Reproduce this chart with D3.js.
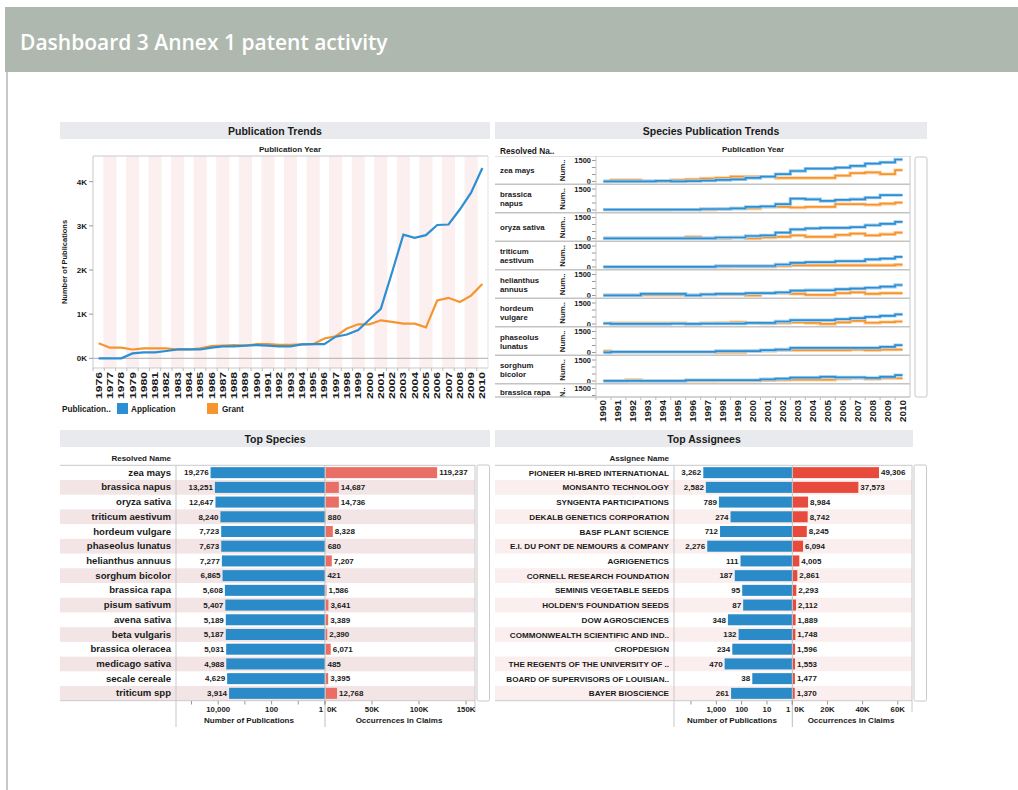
<!DOCTYPE html>
<html><head><meta charset="utf-8">
<script src="https://cdn.jsdelivr.net/npm/d3@7"></script>
<style>
body{margin:0;background:#fff;}
svg text{font-family:"Liberation Sans",Arial,sans-serif;font-weight:bold;fill:#1a1a1a;}
</style></head><body>
<svg id="c" width="1018" height="790"></svg>
<script>
// ---------- DATA ----------
const pubYears = [1976,1977,1978,1979,1980,1981,1982,1983,1984,1985,1986,1987,1988,1989,1990,1991,1992,1993,1994,1995,1996,1997,1998,1999,2000,2001,2002,2003,2004,2005,2006,2007,2008,2009,2010];
const applicationPubs = [0,0,0,110,135,135,165,200,200,200,240,270,270,285,300,285,270,270,315,320,320,490,540,640,880,1120,1950,2800,2730,2790,3020,3030,3370,3750,4310];
const grantPubs = [340,240,240,200,225,225,225,200,200,225,275,290,300,290,320,320,305,305,315,320,450,500,675,770,770,860,825,785,785,700,1310,1370,1275,1420,1685];
const pubTicks = [0,1000,2000,3000,4000];
const pubTickLabels = ["0K","1K","2K","3K","4K"];

const trendYears = [1990,1991,1992,1993,1994,1995,1996,1997,1998,1999,2000,2001,2002,2003,2004,2005,2006,2007,2008,2009,2010];
const trendSpecies = ["zea mays","brassica napus","oryza sativa","triticum aestivum","helianthus annuus","hordeum vulgare","phaseolus lunatus","sorghum bicolor","brassica rapa"];
const trendSpeciesLines = [["zea mays"],["brassica","napus"],["oryza sativa"],["triticum","aestivum"],["helianthus","annuus"],["hordeum","vulgare"],["phaseolus","lunatus"],["sorghum","bicolor"],["brassica rapa"]];
const trendApplication = [
 [15,15,15,15,45,15,30,60,110,150,255,345,525,750,920,920,990,1110,1275,1365,1570],
 [30,30,30,30,30,30,30,70,70,110,225,255,420,810,765,645,720,765,885,1065,1065],
 [15,15,15,15,15,15,15,15,70,70,180,225,420,645,720,765,765,810,945,1050,1185],
 [15,15,15,15,15,15,15,15,70,70,70,70,180,300,345,345,420,420,540,600,720],
 [15,15,15,120,120,120,15,75,120,120,165,165,225,345,375,375,450,495,555,630,750],
 [45,5,5,5,5,30,5,30,30,30,75,75,180,270,270,270,345,420,510,585,690],
 [5,45,45,45,45,45,45,45,105,105,105,165,210,330,330,330,330,330,330,405,525],
 [5,5,5,5,5,5,60,60,60,60,60,120,165,240,240,300,255,255,225,300,420],
 null
];
const trendGrant = [
 [5,110,110,15,15,110,150,210,255,345,345,345,255,255,255,255,420,600,645,525,810],
 [30,30,30,15,15,30,30,15,70,110,110,225,225,180,225,225,420,420,375,450,525],
 [15,15,15,15,15,15,120,15,15,70,15,70,120,225,120,120,255,345,225,300,420],
 [15,15,15,15,15,15,15,15,5,15,15,15,70,120,120,120,120,120,120,120,165],
 [15,15,15,30,30,30,30,75,75,75,15,165,165,120,45,45,165,225,120,165,165],
 [30,75,75,75,75,75,30,75,90,120,75,30,75,120,75,5,120,225,90,135,180],
 [105,45,45,45,45,45,45,45,5,5,105,105,165,165,165,165,165,210,165,210,210],
 [5,5,90,5,5,5,5,5,15,15,15,45,75,90,90,90,165,195,135,195,195],
 null
];
const trendTicks = [0,500,1000,1500];

const topSpecies = ["zea mays","brassica napus","oryza sativa","triticum aestivum","hordeum vulgare","phaseolus lunatus","helianthus annuus","sorghum bicolor","brassica rapa","pisum sativum","avena sativa","beta vulgaris","brassica oleracea","medicago sativa","secale cereale","triticum spp"];
const topSpeciesPubs = [19276,13251,12647,8240,7723,7673,7277,6865,5608,5407,5189,5187,5031,4988,4629,3914];
const topSpeciesClaims = [119237,14687,14736,880,8328,680,7207,421,1586,3641,3389,2390,6071,485,3395,12768];
const speciesLogTicks = [1,10,100,1000,10000,100000];
const speciesLogLabels = {1:"1",100:"100",10000:"10,000"};
const speciesClaimTicks = [0,50000,100000,150000];
const speciesClaimLabels = ["0K","50K","100K","150K"];

const topAssignees = ["PIONEER HI-BRED INTERNATIONAL","MONSANTO TECHNOLOGY","SYNGENTA PARTICIPATIONS","DEKALB GENETICS CORPORATION","BASF PLANT SCIENCE","E.I. DU PONT DE NEMOURS & COMPANY","AGRIGENETICS","CORNELL RESEARCH FOUNDATION","SEMINIS VEGETABLE SEEDS","HOLDEN'S FOUNDATION SEEDS","DOW AGROSCIENCES","COMMONWEALTH SCIENTIFIC AND IND..","CROPDESIGN","THE REGENTS OF THE UNIVERSITY OF ..","BOARD OF SUPERVISORS OF LOUISIAN..","BAYER BIOSCIENCE"];
const assigneePubs = [3262,2582,789,274,712,2276,111,187,95,87,348,132,234,470,38,261];
const assigneeClaims = [49306,37573,8984,8742,8245,6094,4005,2861,2293,2112,1889,1748,1596,1553,1477,1370];
const assigneeLogTicks = [1,10,100,1000,10000];
const assigneeLogLabels = {1:"1",10:"10",100:"100",1000:"1,000"};
const assigneeClaimTicks = [0,20000,40000,60000];
const assigneeClaimLabels = ["0K","20K","40K","60K"];

// ---------- STYLE ----------
const BLUE = "#2d8fd3", ORANGE = "#f6952e", BARBLUE = "#2b8bc9", SALMON = "#e96e66", RED = "#e84a3c";
const GRID = "#c9c9c9";
const fmt = d3.format(",");

const svg = d3.select("#c");

// header
svg.append("rect").attr("x",5).attr("y",7).attr("width",1013).attr("height",65).attr("fill","#afb8af");
svg.append("text").attr("x",20).attr("y",50).text("Dashboard 3 Annex 1 patent activity")
  .style("font-family","'Open Sans',sans-serif").style("font-weight","600").style("font-size","21px").style("fill","#ffffff");
svg.append("rect").attr("x",6).attr("y",72).attr("width",2).attr("height",718).attr("fill","#c8c8c8");

function T(g,x,y,s,size,anchor){
  return g.append("text").attr("x",x).attr("y",y).text(s).attr("font-size",size).attr("text-anchor",anchor||"start");
}
function line(g,x1,y1,x2,y2,c,w){
  return g.append("line").attr("x1",x1).attr("y1",y1).attr("x2",x2).attr("y2",y2).attr("stroke",c||GRID).attr("stroke-width",w||1);
}
function titleBar(x,y,w,s){
  svg.append("rect").attr("x",x).attr("y",y).attr("width",w).attr("height",17).attr("fill","#e8eaed");
  T(svg,x+w/2,y+12.5,s,10.5,"middle");
}
titleBar(60,122,430,"Publication Trends");
titleBar(495,122,432,"Species Publication Trends");
titleBar(60,430,430,"Top Species");
titleBar(495,430,418,"Top Assignees");

// ---------- PUBLICATION TRENDS ----------
{
  const g = svg.append("g");
  const x = d3.scaleBand().domain(pubYears).range([93,488]);
  const y = d3.scaleLinear().domain([0,4000]).range([358.3,181.7]);
  const top = 156, bot = 368, bw = x.step()*1.16;
  pubYears.forEach((yr,i)=>{
    if(i%2===1) g.append("rect").attr("x",x(yr)+x.bandwidth()/2-bw/2).attr("y",top).attr("width",bw).attr("height",bot-top).attr("fill","#fbefef");
  });
  line(g,93,top,488,top); line(g,93,top,93,bot); line(g,93,bot,488,bot); line(g,488,top,488,bot,"#e3e3e3");
  line(g,93,y(0),488,y(0),"#bdbdbd",1.2);
  pubTicks.forEach((v,i)=>{ line(g,89,y(v),93,y(v),"#999"); T(g,87,y(v)+3,pubTickLabels[i],8,"end"); });
  pubYears.forEach(yr=>{
    line(g,x(yr),bot,x(yr),bot+3,"#bbb");
    T(g,0,0,String(yr),8.5,"end").attr("transform",`translate(${x(yr)+x.bandwidth()/2+3},${bot+4}) rotate(-90)`)
      .attr("textLength",27).attr("lengthAdjust","spacingAndGlyphs");
  });
  T(g,0,0,"Number of Publications",7.5,"middle").attr("transform","translate(67,262) rotate(-90)");
  T(g,290,151.5,"Publication Year",8,"middle");
  const ln = d3.line().x((d,i)=>x(pubYears[i])+x.bandwidth()/2).y(d=>y(d));
  g.append("path").attr("d",ln(grantPubs)).attr("fill","none").attr("stroke",ORANGE).attr("stroke-width",2.2);
  g.append("path").attr("d",ln(applicationPubs)).attr("fill","none").attr("stroke",BLUE).attr("stroke-width",2.2);
  // legend
  T(g,62,412,"Publication..",8.2,"start");
  g.append("rect").attr("x",117).attr("y",403).attr("width",11).attr("height",11).attr("fill",BLUE);
  T(g,131,412,"Application",8.2,"start");
  g.append("rect").attr("x",207).attr("y",403).attr("width",11).attr("height",11).attr("fill",ORANGE);
  T(g,222,412,"Grant",8.2,"start");
}

// ---------- SPECIES PUBLICATION TRENDS ----------
{
  const g = svg.append("g");
  const x = d3.scaleBand().domain(trendYears).range([596,910]);
  const pitch = 28.5, firstTop = 157.3, panelBot = 397;
  T(g,500,153.5,"Resolved Na..",8.3,"start");
  T(g,753,151.5,"Publication Year",8,"middle");
  const clip = svg.append("defs").append("clipPath").attr("id","spClip");
  clip.append("rect").attr("x",495).attr("y",156).attr("width",420).attr("height",panelBot-156);
  const rows = g.append("g").attr("clip-path","url(#spClip)");
  trendSpecies.forEach((sp,i)=>{
    const top = firstTop + i*pitch;
    const last = i===trendSpecies.length-1;
    const y = d3.scaleLinear().domain([0,1500]).range([top+24.2, top+3.2]);
    line(rows,495,top-1.5,910,top-1.5,"#c4c4c4",1.6);
    const lines = trendSpeciesLines[i];
    if(last) T(rows,500,top+9.5,lines[0],7.8,"start");
    else if(lines.length===1) T(rows,500,top+15.5,lines[0],7.8,"start");
    else { T(rows,500,top+11.5,lines[0],7.8,"start"); T(rows,500,top+20.5,lines[1],7.8,"start"); }
    T(rows,0,0,last?"N..":"Num..",7.8,"middle").attr("transform",`translate(${565},${last?top+7:top+13}) rotate(-90)`);
    trendTicks.forEach(v=>line(rows,592,y(v),596,y(v),"#999"));
    T(rows,591,y(1500)+2.8,"1500",7.5,"end");
    T(rows,591,y(0)+2.8,"0",7.5,"end");
    const ln = d3.line().curve(d3.curveStep).x((d,j)=>x(trendYears[j])+x.bandwidth()/2).y(d=>y(d));
    if(trendGrant[i]){
      rows.append("path").attr("d",ln(trendGrant[i])).attr("fill","none").attr("stroke","#fcd2a6").attr("stroke-width",3.4);
      rows.append("path").attr("d",ln(trendGrant[i])).attr("fill","none").attr("stroke",ORANGE).attr("stroke-width",1.7);
    }
    if(trendApplication[i]){
      rows.append("path").attr("d",ln(trendApplication[i])).attr("fill","none").attr("stroke","#a8d0ef").attr("stroke-width",3.4);
      rows.append("path").attr("d",ln(trendApplication[i])).attr("fill","none").attr("stroke",BLUE).attr("stroke-width",1.7);
    }
  });
  line(g,495,panelBot,910,panelBot,"#c4c4c4",1.6);
  line(g,596,156,596,panelBot,"#c9c9c9");
  line(g,910,156,910,panelBot,"#c9c9c9");
  trendYears.forEach(yr=>{
    line(g,x(yr),panelBot,x(yr),panelBot+3,"#bbb");
    T(g,0,0,String(yr),8.5,"end").attr("transform",`translate(${x(yr)+x.bandwidth()/2+3},${panelBot+3}) rotate(-90)`)
      .attr("textLength",22).attr("lengthAdjust","spacingAndGlyphs");
  });
  g.append("rect").attr("x",915).attr("y",157).attr("width",12).attr("height",240).attr("fill","#fff").attr("stroke","#c8c8c8").attr("rx",2);
}

// ---------- BAR TABLES ----------
function barTable(opt){
  const g = svg.append("g");
  const y = d3.scaleBand().domain(opt.names).range([465.3,700.7]);
  const inset = 1.85;
  opt.names.forEach((n,i)=>{
    if(i%2===1) g.append("rect").attr("x",opt.start).attr("y",y(n)).attr("width",opt.right-opt.start).attr("height",y.bandwidth()).attr("fill",opt.shade);
  });
  const xL = d3.scaleLog().domain([1,opt.logMax]).range([opt.div,opt.left]);
  const xR = d3.scaleLinear().domain([0,opt.linMax]).range([opt.div,opt.right]);
  opt.names.forEach((n,i)=>{
    const yy = y(n)+inset, h = y.bandwidth()-2*inset, cy = y(n)+y.bandwidth()/2+2.8;
    const lv = opt.pubs[i], rv = opt.claims[i];
    g.append("rect").attr("x",xL(lv)).attr("y",yy).attr("width",opt.div-xL(lv)).attr("height",h).attr("fill",BARBLUE);
    g.append("rect").attr("x",opt.div+0.5).attr("y",yy).attr("width",xR(rv)-opt.div-0.5).attr("height",h).attr("fill",opt.redColor);
    T(g,xL(lv)-2,cy,fmt(lv),8,"end");
    T(g,xR(rv)+2,cy,fmt(rv),8,"start");
    T(g,opt.labelX,cy+0.3,n,opt.labelSize,"end");
  });
  line(g,opt.start,465.3,opt.right,465.3);
  line(g,opt.start,700.7,opt.right,700.7);
  line(g,opt.left,465.3,opt.left,727);
  line(g,opt.div,465.3,opt.div,727,"#bdbdbd");
  line(g,opt.right,465.3,opt.right,712);
  T(g,opt.labelX,461,opt.header,8,"end");
  opt.logTicks.forEach(v=>{
    line(g,xL(v),701,xL(v),704.5,"#999");
    if(opt.logLabels[v]!==undefined){
      if(v===1) T(g,xL(v)-2,711.5,opt.logLabels[v],7.8,"end");
      else T(g,xL(v),711.5,opt.logLabels[v],7.8,"middle");
    }
  });
  opt.linTicks.forEach((v,i)=>{
    line(g,xR(v),701,xR(v),704.5,"#999");
    if(i===0) T(g,xR(v)+2,711.5,opt.linLabels[i],7.8,"start");
    else T(g,xR(v),711.5,opt.linLabels[i],7.8,"middle");
  });
  T(g,opt.leftTitleX,722.5,"Number of Publications",8,"middle");
  T(g,opt.rightTitleX,722.5,"Occurrences in Claims",8,"middle");
  g.append("rect").attr("x",opt.right+2).attr("y",465).attr("width",12.5).attr("height",236).attr("fill","#fff").attr("stroke","#c8c8c8").attr("rx",1.5);
}

barTable({names:topSpecies,pubs:topSpeciesPubs,claims:topSpeciesClaims,start:60,left:176,div:325,right:475,
  logMax:Math.pow(10,5.58),linMax:159500,redColor:SALMON,shade:"#f3e5e5",labelX:171,labelSize:9.6,
  header:"Resolved Name",logTicks:speciesLogTicks,logLabels:speciesLogLabels,linTicks:speciesClaimTicks,linLabels:speciesClaimLabels,
  leftTitleX:249,rightTitleX:399});
barTable({names:topAssignees,pubs:assigneePubs,claims:assigneeClaims,start:495,left:674,div:792.3,right:912,
  logMax:Math.pow(10,4.67),linMax:68100,redColor:RED,shade:"#faefee",labelX:669,labelSize:8.1,
  header:"Assignee Name",logTicks:assigneeLogTicks,logLabels:assigneeLogLabels,linTicks:assigneeClaimTicks,linLabels:assigneeClaimLabels,
  leftTitleX:732,rightTitleX:851});
</script>
</body></html>
